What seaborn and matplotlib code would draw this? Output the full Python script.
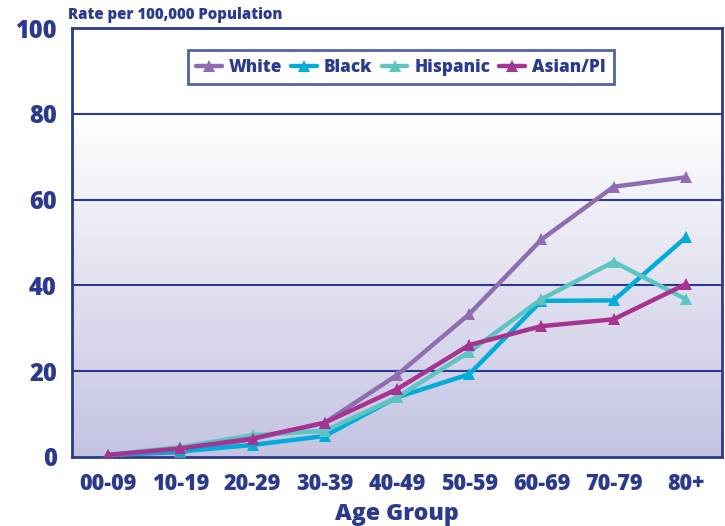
import numpy as np
import pandas as pd
import matplotlib
matplotlib.use("Agg")
import matplotlib.pyplot as plt
from matplotlib.colors import LinearSegmentedColormap
from matplotlib.lines import Line2D
import seaborn as sns

age_groups = ["00-09", "10-19", "20-29", "30-39", "40-49", "50-59", "60-69", "70-79", "80+"]
white = [0.5, 1.1, 4.2, 8.0, 19.1, 33.3, 50.7, 63.0, 65.2]
black = [0.5, 1.3, 2.8, 4.9, 13.9, 19.3, 36.4, 36.5, 51.2]
hispanic = [0.5, 2.3, 5.1, 6.1, 13.9, 24.5, 36.8, 45.5, 36.8]
asian_pi = [0.5, 2.0, 4.3, 8.0, 15.8, 26.1, 30.5, 32.1, 40.3]
series_names = ["White", "Black", "Hispanic", "Asian/PI"]
colors = ["#8f6db1", "#00acd8", "#5cc5c1", "#a5338f"]
y_ticks = [0, 20, 40, 60, 80, 100]

navy = "#2b3a8f"

df = pd.concat([
    pd.DataFrame({"Age": age_groups, "Rate": vals, "Group": name, "x": range(len(age_groups))})
    for name, vals in zip(series_names, [white, black, hispanic, asian_pi])
])

sns.set_style("white")
plt.rcParams['font.family'] = ['Open Sans', 'DejaVu Sans']
W = 800

fig = plt.figure(figsize=(7.25, 5.26), dpi=100)
ax = fig.add_axes([72/725, 1 - 457/526, 650/725, 429/526])

# gradient background from white (at 80) to lavender (at 0)
cmap = LinearSegmentedColormap.from_list("bg", ["#c4c3e2", "#ffffff"])
grad = np.linspace(0, 1, 256).reshape(-1, 1)
ax.imshow(grad, aspect="auto", cmap=cmap, origin="lower",
          extent=[-0.5, len(age_groups) - 0.5, 0, 80], zorder=0)

sns.lineplot(data=df, x="x", y="Rate", hue="Group", hue_order=series_names,
             palette=colors, marker="^", markersize=9, markeredgewidth=0,
             linewidth=3.2, ax=ax, zorder=3, legend=False)

ax.set_xlim(-0.5, len(age_groups) - 0.5)
ax.set_ylim(0, 100)
ax.set_yticks(y_ticks)
ax.set_yticklabels([str(v) for v in y_ticks], fontsize=17, fontweight=W, color=navy)
ax.set_xticks(range(len(age_groups)))
ax.set_xticklabels(age_groups, fontsize=15.5, fontweight=W, color=navy)
ax.set_xticks(np.arange(-0.5, len(age_groups)), minor=True)
ax.tick_params(axis="x", which="major", length=0, pad=11)
ax.tick_params(axis="x", which="minor", length=7, width=2, color=navy, direction="out")
ax.tick_params(axis="y", which="major", length=5, width=2, color=navy, direction="out", pad=6)
ax.set_xlabel("")
ax.set_ylabel("")

for v in y_ticks[1:-1]:
    ax.axhline(v, color=navy, lw=1.5, zorder=2)
for s in ax.spines.values():
    s.set_color(navy)
    s.set_linewidth(2)
    s.set_visible(True)

handles = [Line2D([0], [0], color=c, lw=3.2, marker="^", markersize=9, markeredgewidth=0)
           for c in colors]
leg = ax.legend(handles, series_names, loc="center", bbox_to_anchor=(0.506, 0.909),
                ncol=4, frameon=True, fancybox=False, handlelength=1.5, handletextpad=0.4,
                columnspacing=0.55, borderpad=0.5,
                prop={"family": ["Open Sans", "DejaVu Sans"], "weight": W, "size": 12.3})
leg.get_frame().set_edgecolor(navy)
leg.get_frame().set_linewidth(2)
leg.get_frame().set_facecolor("white")
for t in leg.get_texts():
    t.set_color(navy)

fig.text(68/725, 1 - 15/526, "Rate per 100,000 Population", fontsize=10.8,
         fontweight=W, color=navy, va="center", ha="left")
fig.text(397/725, 1 - 520/526, "Age Group", fontsize=16.7,
         fontweight=W, color=navy, va="baseline", ha="center")

fig.savefig("out.png", dpi=100)
